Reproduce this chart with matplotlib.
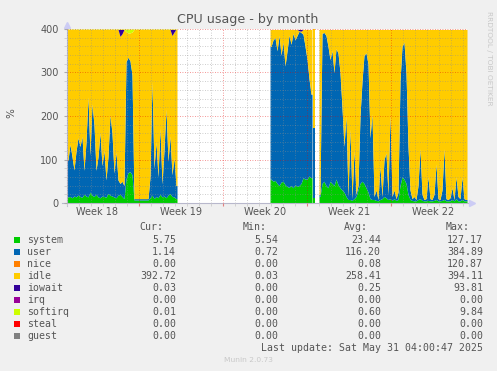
import numpy as np
import matplotlib
matplotlib.use('Agg')
import matplotlib.pyplot as plt
from matplotlib.patches import Rectangle

# ---- data (percent of 4 cpus, samples every 4 hours, time in days from start of week 19) ----
capacity = 400
step = 1 / 6

seg1_start = -6.0
seg1_system = [14, 15, 12, 16, 14, 18, 15, 13, 20, 16, 14, 25, 18, 15, 20, 14, 12, 16, 15, 13,
               22, 18, 16, 14, 12, 18, 20, 15, 10, 55, 70, 72, 65, 7, 7, 7, 7, 7, 7, 7,
               7, 12, 18, 10, 15, 12, 20, 14, 16, 12, 18, 22, 15, 14, 10]
seg1_user = [85, 120, 95, 60, 105, 132, 115, 140, 55, 124, 230, 85, 210, 165, 55, 92, 150, 70, 105, 40,
             85, 185, 145, 55, 105, 35, 25, 35, 30, 270, 265, 255, 230, 3, 3, 3, 3, 3, 3, 3,
             3, 48, 262, 70, 125, 48, 152, 30, 106, 204, 78, 132, 50, 90, 30]
seg1_iowait = [0, 0, 0, 0, 0, 0, 0, 0, 0, 0, 0, 0, 0, 0, 0, 0, 0, 0, 0, 0,
               0, 0, 0, 0, 0, 0, 16, 10, 0, 0, 0, 0, 0, 0, 0, 0, 0, 0, 0, 0,
               0, 0, 0, 0, 0, 0, 0, 0, 0, 0, 0, 0, 14, 6, 0]
seg1_softirq = [1, 1, 1, 1, 1, 1, 1, 1, 1, 1, 1, 1, 1, 1, 1, 1, 1, 1, 1, 1,
                1, 1, 1, 1, 1, 1, 1, 1, 1, 6, 9, 9, 7, 1, 1, 1, 1, 1, 1, 1,
                1, 1, 1, 1, 1, 1, 1, 1, 1, 1, 1, 1, 1, 1, 1]

seg2_start = 10.92
seg2_system = [55, 50, 52, 45, 40, 48, 50, 42, 38, 36, 40, 35, 42, 38, 40, 45, 58, 55, 55, 62, 58]
seg2_user = [305, 325, 328, 305, 345, 292, 320, 273, 312, 350, 325, 355, 333, 347, 355, 347, 330, 305, 275, 223, 192]
seg2_iowait = [0, 0, 0, 0, 0, 0, 0, 0, 0, 0, 0, 0, 0, 0, 3, 4, 0, 0, 0, 0, 0]
seg2_softirq = [1, 1, 1, 1, 1, 1, 1, 1, 1, 1, 1, 1, 1, 1, 1, 1, 1, 1, 1, 1, 1]

seg3_start = 14.5
seg3_system = [12]
seg3_user = [160]
seg3_iowait = [0]
seg3_softirq = [1]

seg4_start = 15.0
seg4_system = [15, 45, 50, 40, 35, 50, 45, 40, 55, 42, 35, 30, 25, 15, 8, 8, 6, 10, 15, 30,
               45, 50, 45, 35, 25, 10, 8, 8, 6, 5, 8, 10, 15, 12, 8, 10, 6, 10, 6, 8,
               40, 60, 55, 45, 20, 8, 6, 5, 5, 8, 10, 6, 5, 5, 6, 5, 5, 6, 8, 5,
               5, 6, 8, 5, 5, 5, 8, 5, 10, 5, 5, 8, 5, 5]
seg4_user = [5, 345, 342, 345, 325, 280, 305, 260, 300, 303, 265, 190, 105, 185, 7, 162, 4, 110, 5, 10,
             155, 230, 295, 310, 295, 140, 197, 7, 24, 3, 77, 5, 85, 103, 12, 195, 9, 20, 4, 17,
             240, 300, 315, 255, 110, 22, 4, 10, 3, 32, 115, 14, 3, 5, 54, 5, 3, 14, 82, 5,
             3, 24, 117, 5, 3, 7, 27, 3, 50, 10, 5, 52, 5, 3]
seg4_iowait = [0] * 74
seg4_softirq = [1] * 74

week_labels = ['Week 18', 'Week 19', 'Week 20', 'Week 21', 'Week 22']
week_starts = [-7, 0, 7, 14, 21]

legend_names = ['system', 'user', 'nice', 'idle', 'iowait', 'irq', 'softirq', 'steal', 'guest']
legend_colors = ['#00CC00', '#0066B3', '#FF8000', '#FFCC00', '#330099', '#990099', '#CCFF00', '#FF0000', '#808080']
cur = ['5.75', '1.14', '0.00', '392.72', '0.03', '0.00', '0.01', '0.00', '0.00']
mins = ['5.54', '0.72', '0.00', '0.03', '0.00', '0.00', '0.00', '0.00', '0.00']
avgs = ['23.44', '116.20', '0.08', '258.41', '0.25', '0.00', '0.60', '0.00', '0.00']
maxs = ['127.17', '384.89', '120.87', '394.11', '93.81', '0.00', '9.84', '0.00', '0.00']

colors = ['#00CC00', '#0066B3', '#FFCC00', '#330099', '#CCFF00']


def draw_segment(ax, start, system, user, iowait, softirq):
    n = len(system)
    io = np.array(iowait, float)
    si = np.array(softirq, float)
    sy = np.array(system, float)
    us = np.array(user, float)
    idle = capacity - sy - us - io - si
    layers = [sy, us, idle, io, si]
    if n == 1:
        # a lone sample: one column
        bottom = 0
        for vals, col in zip(layers, colors):
            ax.bar([start], vals, width=step, bottom=bottom, align='edge', color=col, linewidth=0)
            bottom = bottom + vals
        return
    # sample centres, with the area running to both edges of the segment
    x = start + step * (np.arange(n) + 0.5)
    x = np.r_[start, x, start + step * n]
    bottom = np.zeros(n + 2)
    for vals, col in zip(layers, colors):
        v = np.r_[vals[0], vals, vals[-1]]
        ax.fill_between(x, bottom, bottom + v, color=col, linewidth=0)
        bottom = bottom + v


def main():
    segs = [(seg1_start, seg1_system, seg1_user, seg1_iowait, seg1_softirq),
            (seg2_start, seg2_system, seg2_user, seg2_iowait, seg2_softirq),
            (seg3_start, seg3_system, seg3_user, seg3_iowait, seg3_softirq),
            (seg4_start, seg4_system, seg4_user, seg4_iowait, seg4_softirq)]

    W, H = 497, 371
    text_c = '#555555'
    fig = plt.figure(figsize=(W / 100, H / 100), dpi=100, facecolor='#F0F0F0')
    ax = fig.add_axes([67 / W, 1 - 203 / H, 400 / W, 174 / H])
    ax.set_facecolor('white')

    for seg in segs:
        draw_segment(ax, *seg)

    ax.set_xlim(-6, -6 + 400 / 12)
    ax.set_ylim(0, 400)

    # grid
    ax.set_axisbelow(False)
    ax.set_yticks([0, 100, 200, 300, 400])
    ax.set_yticks(np.arange(0, 401, 20), minor=True)
    ax.set_xticks([0, 7, 14, 21])
    ax.set_xticks(np.arange(-6, 28, 1), minor=True)
    ax.set_xticklabels([])
    ax.grid(True, which='minor', color='#8F8F8F', alpha=0.6, linestyle=(0, (1, 2)), linewidth=0.6)
    ax.grid(True, which='major', color='#E50000', alpha=0.55, linestyle=(0, (1, 2)), linewidth=0.6)
    ax.tick_params(axis='y', which='major', length=2, color='#aaaaaa', labelsize=7, labelcolor=text_c, pad=4)
    ax.tick_params(axis='y', which='minor', length=2, color='#cccccc')
    ax.tick_params(axis='x', which='major', length=2, color='#e08080')
    ax.tick_params(axis='x', which='minor', length=2, color='#cccccc')

    for lab, ws in zip(week_labels, week_starts):
        ax.text(ws + 3.5, -0.052, lab, transform=ax.get_xaxis_transform(), ha='center', va='center',
                fontsize=7, color=text_c)

    # axes with arrows
    for sp in ax.spines.values():
        sp.set_visible(False)
    ax_c = '#b8b8cc'
    ax.plot([-0.012, 1.01], [0, 0], transform=ax.transAxes, color=ax_c, lw=0.8, clip_on=False)
    ax.plot([0, 0], [-0.015, 1.0], transform=ax.transAxes, color=ax_c, lw=0.8, clip_on=False)
    ax.plot([1.013], [0], marker='>', ms=4, color='#ccccf5', transform=ax.transAxes, clip_on=False)
    ax.plot([0], [1.025], marker='^', ms=4, color='#ccccf5', transform=ax.transAxes, clip_on=False)

    # titles
    fig.text(248 / W, 1 - 19 / H, 'CPU usage - by month', ha='center', va='center', fontsize=9.1, color=text_c)
    fig.text(11 / W, 1 - 113 / H, '%', rotation=90, ha='center', va='center', fontsize=7.5, color=text_c)
    fig.text(489 / W, 1 - 58 / H, 'RRDTOOL / TOBI OETIKER', rotation=-90, ha='center', va='center',
             fontsize=5.3, color='#c8c8c8')

    # legend table
    mono = 'DejaVu Sans Mono'
    fs = 7.1
    y_head = 227
    for xh, lab in zip([163, 267, 368, 470], ['Cur:', 'Min:', 'Avg:', 'Max:']):
        fig.text(xh / W, 1 - y_head / H, lab, ha='right', va='center', family=mono, fontsize=fs, color=text_c)
    for i, name in enumerate(legend_names):
        y = 240 + 12 * i
        fig.add_artist(Rectangle((14 / W, 1 - (y + 3) / H), 6 / W, 6 / H, transform=fig.transFigure,
                                 facecolor=legend_colors[i], edgecolor='none'))
        fig.text(27 / W, 1 - y / H, name, ha='left', va='center', family=mono, fontsize=fs, color=text_c)
        for xv, col in zip([176, 278, 381, 483], [cur, mins, avgs, maxs]):
            fig.text(xv / W, 1 - y / H, col[i], ha='right', va='center', family=mono, fontsize=fs, color=text_c)
    fig.text(483 / W, 1 - 348 / H, 'Last update: Sat May 31 04:00:47 2025', ha='right', va='center',
             family=mono, fontsize=fs, color=text_c)
    fig.text(248 / W, 1 - 360 / H, 'Munin 2.0.73', ha='center', va='center', fontsize=5.4, color='#c8c8c8')

    fig.savefig('out.png', dpi=100, facecolor=fig.get_facecolor())


if __name__ == '__main__':
    main()
